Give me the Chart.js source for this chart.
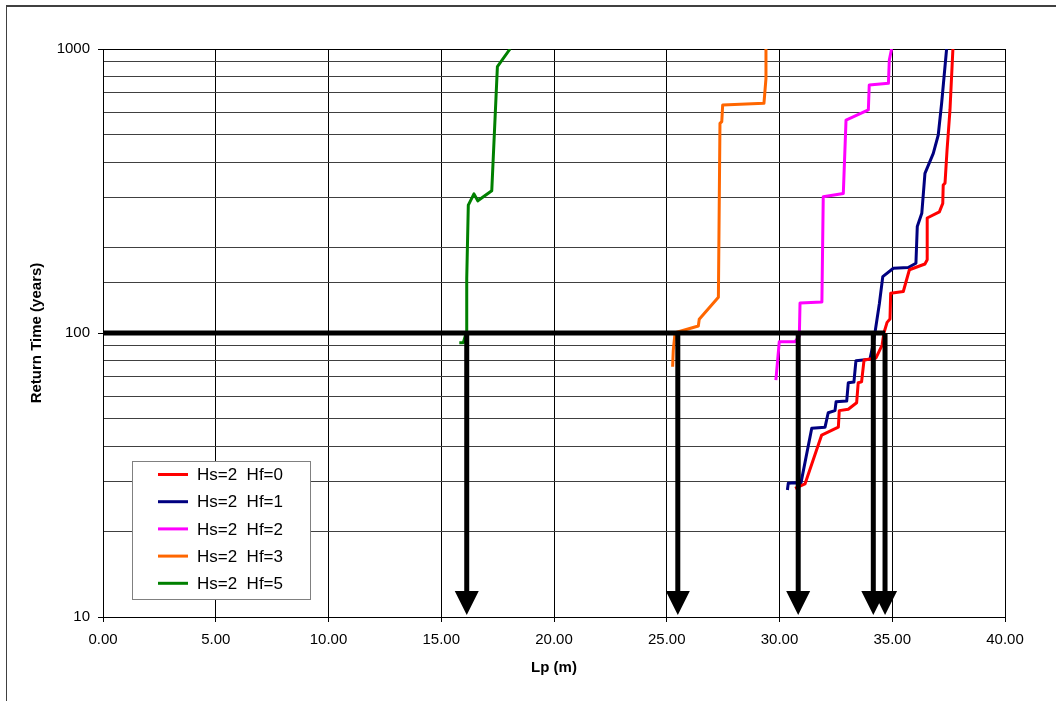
<!DOCTYPE html>
<html>
<head>
<meta charset="utf-8">
<script src="https://cdn.jsdelivr.net/npm/chart.js@4.4.0/dist/chart.umd.min.js"></script>
<style>
  html, body { margin: 0; padding: 0; background: #fff; overflow: hidden; }
  #frame { position: absolute; left: 6px; top: 5px; width: 1100px; height: 800px; border-top: 2px solid #404040; border-left: 1px solid #404040; }
  canvas { position: absolute; left: 0; top: 0; }
</style>
</head>
<body>
<div id="frame"></div>
<canvas id="myChart" width="1056" height="701"></canvas>
<script>
// Lp (m) against return time (years)
const hf0Lp    = [30.69, 31.13, 31.87, 32.61, 32.65, 33.05, 33.42, 33.49, 33.64, 33.75, 34.28, 34.55, 34.63, 34.77, 34.90, 34.93, 35.49, 35.76, 36.45, 36.55, 36.55, 37.09, 37.24, 37.26, 37.34, 37.43, 37.56, 37.69];
const hf0Years = [28.4, 29.4, 43.7, 46.6, 53.3, 53.9, 56.8, 66.8, 67.3, 80.4, 81.7, 90.7, 100, 109, 112, 138, 140, 167, 175, 181, 254, 267, 286, 332, 337, 441, 610, 1000];

const hf1Lp    = [30.35, 30.39, 30.69, 30.95, 31.43, 32.02, 32.16, 32.46, 32.51, 32.98, 33.05, 33.30, 33.39, 34.01, 34.13, 34.24, 34.43, 34.58, 35.05, 35.71, 36.05, 36.11, 36.31, 36.45, 36.82, 37.04, 37.19, 37.41];
const hf1Years = [28.0, 29.6, 29.7, 29.6, 46.2, 46.6, 52.4, 53.3, 57.3, 57.6, 66.8, 67.2, 79.9, 80.8, 89.5, 101, 127, 158, 169, 170, 176, 237, 264, 365, 429, 498, 644, 1000];

const hf2Lp    = [29.84, 29.99, 30.69, 30.88, 30.91, 31.88, 31.94, 32.83, 32.95, 33.94, 33.98, 34.83, 34.87, 34.97];
const hf2Years = [68.3, 93.2, 93.2, 97.6, 127.5, 128.6, 302, 310, 562, 610, 747, 757, 915, 1000];

const hf3Lp    = [25.26, 25.29, 25.37, 26.40, 26.44, 27.29, 27.36, 27.44, 27.48, 29.31, 29.40, 29.40];
const hf3Years = [76.1, 87.1, 100.2, 105.8, 111.7, 133.6, 547, 555, 635, 644, 788, 1000];

const hf5Lp    = [15.80, 15.98, 16.10, 16.13, 16.20, 16.45, 16.62, 17.24, 17.49, 18.05];
const hf5Years = [92.4, 92.4, 99.8, 155.8, 282, 309, 292, 317, 867, 1000];

const seriesLabels = ["Hs=2  Hf=0", "Hs=2  Hf=1", "Hs=2  Hf=2", "Hs=2  Hf=3", "Hs=2  Hf=5"];
const seriesColors = ["#FF0000", "#000080", "#FF00FF", "#FF6600", "#008000"];

// 100-year return time and where each curve crosses it
const targetYears = 100;
const arrowLp = [16.13, 25.49, 30.83, 34.16, 34.68];
const axisMinYears = 10;

function toPoints(xs, ys) {
  return xs.map((x, i) => ({ x: x, y: ys[i] }));
}

function isDecade(v) {
  const l = Math.log10(v);
  return Math.abs(l - Math.round(l)) < 1e-9;
}

// draws the down arrows from the 100 year line to the x axis
const arrowPlugin = {
  id: "arrowPlugin",
  afterDatasetsDraw(chart) {
    const ctx = chart.ctx;
    chart.data.datasets.forEach((d, i) => {
      if (!d.isArrow) return;
      const pts = chart.getDatasetMeta(i).data;
      const from = pts[0];
      const tip = pts[1];
      ctx.save();
      ctx.strokeStyle = "#000";
      ctx.lineWidth = 5;
      ctx.beginPath();
      ctx.moveTo(tip.x, from.y);
      ctx.lineTo(tip.x, tip.y - 20);
      ctx.stroke();
      ctx.fillStyle = "#000";
      ctx.beginPath();
      ctx.moveTo(tip.x, tip.y - 2);
      ctx.lineTo(tip.x - 12, tip.y - 26);
      ctx.lineTo(tip.x + 12, tip.y - 26);
      ctx.closePath();
      ctx.fill();
      ctx.restore();
    });
  },
};

// boxed legend sitting inside the plot, lower left
const legendPlugin = {
  id: "legendPlugin",
  afterDraw(chart) {
    const ctx = chart.ctx;
    const items = chart.data.datasets.filter((d) => d.inLegend);
    ctx.save();
    ctx.fillStyle = "#fff";
    ctx.fillRect(132, 461, 179, 139);
    ctx.strokeStyle = "#808080";
    ctx.lineWidth = 1;
    ctx.strokeRect(132.5, 461.5, 178, 138);
    ctx.font = '17px "Liberation Sans", Arial, sans-serif';
    ctx.textBaseline = "middle";
    items.forEach((d, i) => {
      const y = 474.5 + i * 27.2;
      ctx.strokeStyle = d.borderColor;
      ctx.lineWidth = 3;
      ctx.beginPath();
      ctx.moveTo(158, y);
      ctx.lineTo(188, y);
      ctx.stroke();
      ctx.fillStyle = "#000";
      ctx.fillText(d.label, 197, y + 1);
    });
    ctx.restore();
  },
};

const curves = [
  toPoints(hf0Lp, hf0Years),
  toPoints(hf1Lp, hf1Years),
  toPoints(hf2Lp, hf2Years),
  toPoints(hf3Lp, hf3Years),
  toPoints(hf5Lp, hf5Years),
];

const datasets = [
  {
    label: "100 years",
    data: [{ x: 0, y: targetYears }, { x: arrowLp[arrowLp.length - 1], y: targetYears }],
    borderColor: "#000",
    borderWidth: 5,
    pointRadius: 0,
  },
  ...curves.map((pts, i) => ({
    label: seriesLabels[i],
    data: pts,
    borderColor: seriesColors[i],
    backgroundColor: seriesColors[i],
    borderWidth: 3,
    pointRadius: 0,
    borderJoinStyle: "round",
    inLegend: true,
  })),
  ...arrowLp.map((x) => ({
    label: "arrow",
    data: [{ x: x, y: targetYears }, { x: x, y: axisMinYears }],
    showLine: false,
    pointRadius: 0,
    isArrow: true,
  })),
];

Chart.defaults.font.family = '"Liberation Sans", Arial, sans-serif';
Chart.defaults.color = "#000";

const myChart = new Chart(document.getElementById("myChart"), {
  type: "line",
  data: { datasets },
  plugins: [arrowPlugin, legendPlugin],
  options: {
    responsive: false,
    animation: false,
    layout: { padding: { left: 24, top: 49, right: 51, bottom: 20 } },
    plugins: {
      legend: { display: false },
      tooltip: { enabled: false },
    },
    scales: {
      x: {
        type: "linear",
        min: 0,
        max: 40,
        afterFit: (s) => { s.height = 64; },
        ticks: {
          stepSize: 5,
          maxRotation: 0,
          padding: 9,
          font: { size: 15 },
          callback: (v) => v.toFixed(2),
        },
        grid: { color: "#000", tickColor: "#000", tickLength: 5 },
        border: { color: "#000" },
        title: {
          display: true,
          text: "Lp (m)",
          font: { size: 15, weight: "bold" },
        },
      },
      y: {
        type: "logarithmic",
        min: 10,
        max: 1000,
        afterFit: (s) => { s.width = 79; },
        ticks: {
          autoSkip: false,
          padding: 8,
          font: { size: 15 },
          callback: (v) => (isDecade(v) ? String(Math.round(v)) : ""),
        },
        grid: {
          color: (c) => (c.tick && isDecade(c.tick.value) ? "#000" : "#404040"),
          tickColor: (c) => (c.tick && isDecade(c.tick.value) ? "#000" : "rgba(0,0,0,0)"),
          tickLength: 5,
        },
        border: { color: "#000" },
        title: {
          display: true,
          text: "Return Time (years)",
          font: { size: 15, weight: "bold" },
        },
      },
    },
  },
});
</script>
</body>
</html>
